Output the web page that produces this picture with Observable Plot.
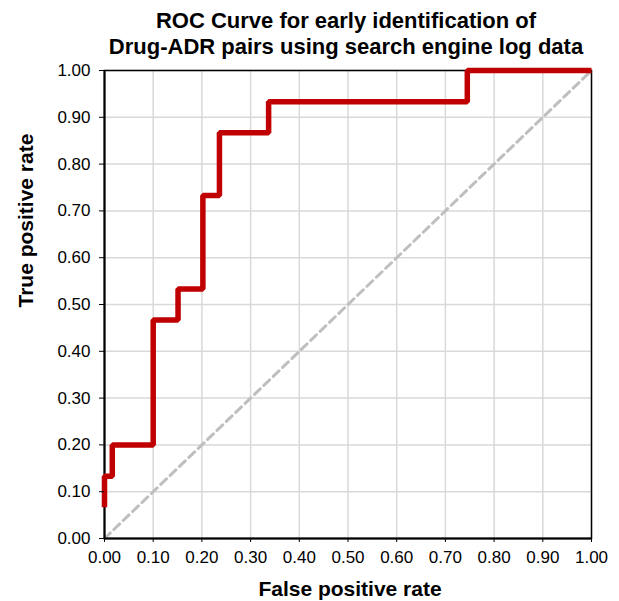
<!DOCTYPE html>
<html>
<head>
<meta charset="utf-8">
<script src="https://cdn.jsdelivr.net/npm/d3@7"></script>
<script src="https://cdn.jsdelivr.net/npm/@observablehq/plot@0.6"></script>
<style>
  html, body { margin: 0; padding: 0; background: #fff; }
  #wrap { width: 619px; height: 601px; position: relative; font-family: "Liberation Sans", Arial, sans-serif; }
  #title { height: 60px; box-sizing: border-box; padding-top: 8.4px; padding-left: 73px; text-align: center;
           font-size: 22px; font-weight: bold; line-height: 26px; color: #000; }
  #chart svg { display: block; }
</style>
</head>
<body>
<div id="wrap">
  <div id="title"><div>ROC Curve for early identification of</div><div>Drug-ADR pairs using search engine log data</div></div>
  <div id="chart"></div>
</div>
<script>
// Data
const fpr = [0, 0, 0.016, 0.10, 0.151, 0.202, 0.236, 0.337, 0.745, 1.0];
const tpr = [0.067, 0.133, 0.200, 0.467, 0.533, 0.733, 0.867, 0.933, 1.0, 1.0];
const diagX = [0, 1];
const diagY = [0, 1];
const ticks = [0, 0.1, 0.2, 0.3, 0.4, 0.5, 0.6, 0.7, 0.8, 0.9, 1.0];
const xLabel = "False positive rate";
const yLabel = "True positive rate";

const fmt = d3.format(".2f");
const chart = Plot.plot({
  width: 619,
  height: 541,
  marginLeft: 104,
  marginRight: 28,
  marginTop: 10,
  marginBottom: 63,
  x: {domain: [0, 1]},
  y: {domain: [0, 1]},
  style: {fontFamily: "'Liberation Sans', Arial, sans-serif", fontSize: "17px", color: "black", background: "white", overflow: "visible"},
  marks: [
    Plot.gridX(ticks, {stroke: "#d9d9d9", strokeOpacity: 1, strokeWidth: 1.5}),
    Plot.gridY(ticks, {stroke: "#d9d9d9", strokeOpacity: 1, strokeWidth: 1.5}),
    Plot.line(diagX, {x: diagX, y: diagY, stroke: "#bfbfbf", strokeWidth: 3, strokeDasharray: "8,5"}),
    Plot.frame({stroke: "black", strokeWidth: 1.5}),
    Plot.ruleX([0], {stroke: "black", strokeWidth: 2}),
    Plot.ruleY([0], {stroke: "black", strokeWidth: 2}),
    Plot.line(fpr, {x: fpr, y: tpr, curve: "step-after", stroke: "#c00000", strokeWidth: 5.5, strokeLinejoin: "miter", strokeLinecap: "butt"}),
    Plot.axisX(ticks, {tickFormat: fmt, tickSize: 4, tickPadding: 8, label: null}),
    Plot.axisY(ticks, {tickFormat: fmt, tickSize: 5, tickPadding: 9, label: null}),
    Plot.text([xLabel], {text: d => d, frameAnchor: "bottom", dy: 57, dx: 2, lineAnchor: "bottom", fontSize: 21, fontWeight: "bold", fill: "black"}),
    Plot.text([yLabel], {text: d => d, frameAnchor: "left", rotate: -90, dx: -72, dy: 3, lineAnchor: "bottom", fontSize: 21, fontWeight: "bold", fill: "black"})
  ]
});
document.getElementById("chart").appendChild(chart);
</script>
</body>
</html>
